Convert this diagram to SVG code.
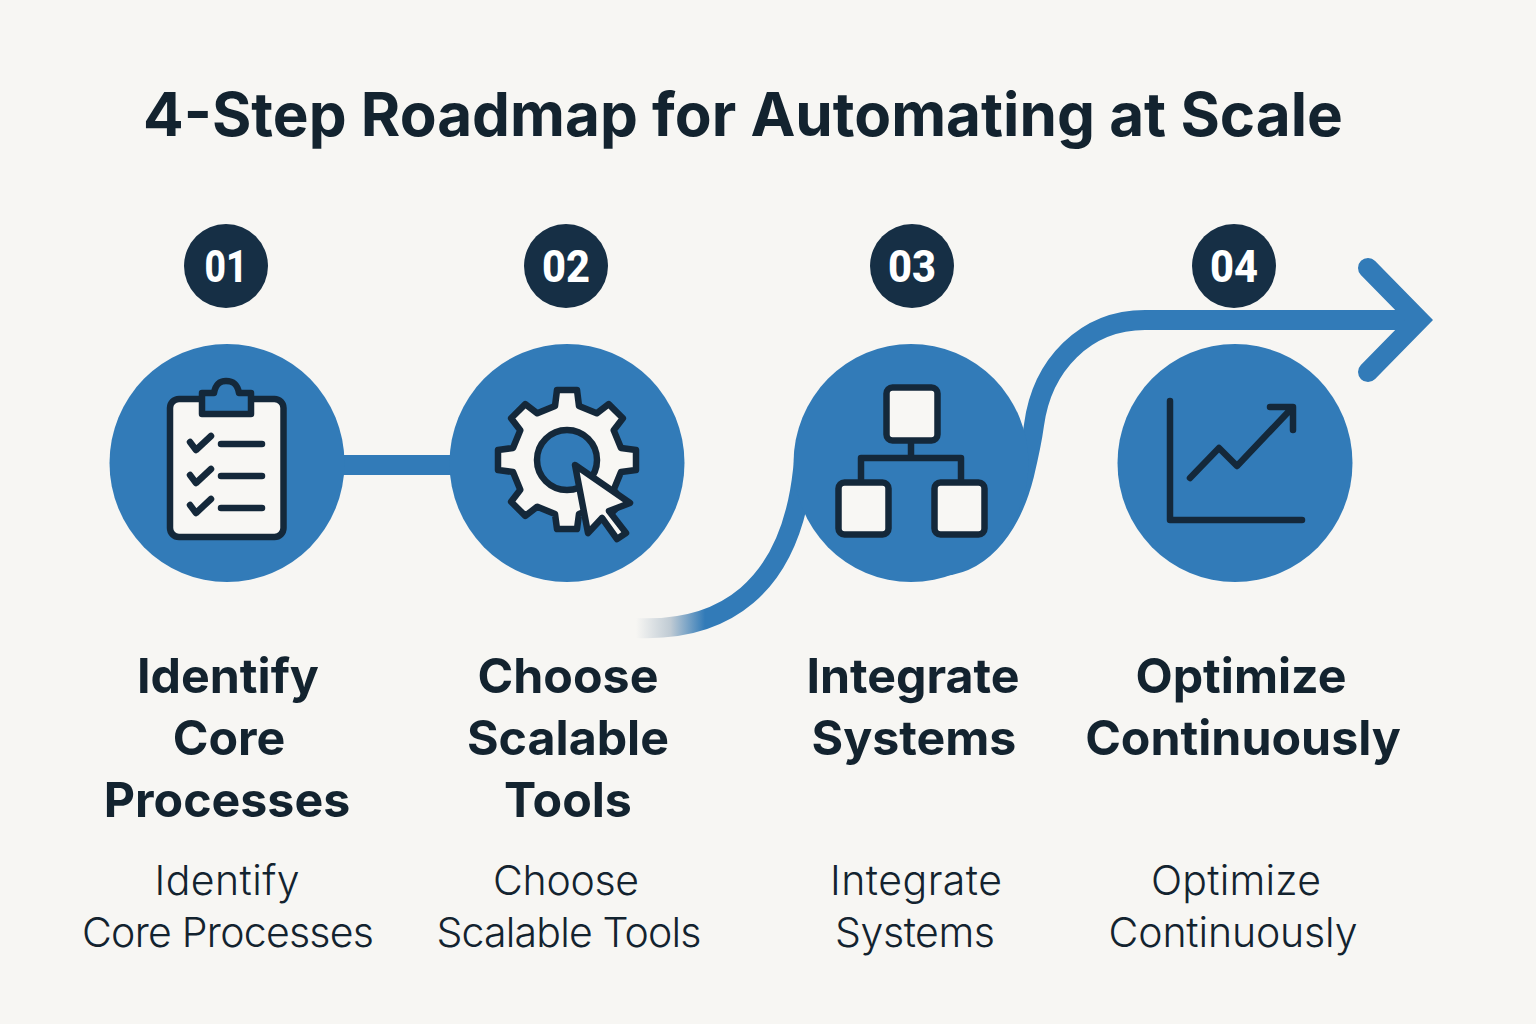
<svg xmlns="http://www.w3.org/2000/svg" width="1536" height="1024" viewBox="0 0 1536 1024">
<style>
text{font-family:Inter,"Noto Sans","Liberation Sans",sans-serif;text-anchor:middle}
.title{font-size:60.200px;font-weight:650;fill:#13232f}
.h{font-size:48.300px;font-weight:650;fill:#13232f}
.d{font-size:41px;font-weight:300;fill:#13232f}
.n{font-size:44px;font-weight:800;fill:#fff;font-family:Roboto,"Liberation Sans",sans-serif}
.badge{fill:#162f45}
.disc{fill:#327bb8}
.ic{stroke:#14283a;stroke-width:6.500;stroke-linejoin:round;stroke-linecap:round;fill:none}
.w{fill:#f8f7f4}
.b{fill:#327bb8}
.con{fill:none;stroke-width:20}
</style>
<defs>
<linearGradient id="fade" gradientUnits="userSpaceOnUse" x1="636" y1="0" x2="705" y2="0">
<stop offset="0" stop-color="#f7f6f3"/>
<stop offset="0.5" stop-color="#c0cbd4"/>
<stop offset="1" stop-color="#327bb8"/>
</linearGradient>
</defs>
<rect width="1536" height="1024" fill="#f7f6f3"/>
<text class="title" x="743" y="136">4-Step Roadmap for Automating at Scale</text>
<g id="connectors">
<path class="con" stroke="#327bb8" d="M340 465H455"/>
<path class="con" stroke="url(#fade)" d="M636 628C722 632 790 590 803 470L806 450M930 566C978 570 1010 530 1024 475C1030 450 1032 440 1034 425C1042 365 1085 320 1145 320H1420"/>
<path class="con" stroke="#327bb8" stroke-linecap="round" d="M1368 268L1419 320L1368 372" stroke-linejoin="miter"/>
</g>
<g id="step1">
<circle class="badge" cx="226" cy="266" r="42"/><text class="n" x="226" y="282" textLength="43" lengthAdjust="spacingAndGlyphs">01</text>
<ellipse class="disc" cx="227" cy="463" rx="117.500" ry="119"/>
<rect class="ic w" x="170" y="399" width="113.500" height="138" rx="9"/>
<path class="ic b" d="M202 393H214C216 382 222 381 226 381C231 381 237 382 239 393H251V414H202Z"/>
<path class="ic" d="M190 442L196 450L211 436M190 475L196 483L211 469M190 505L196 513L211 499"/>
<path class="ic" d="M221 444H262M221 476H262M221 508H262"/>
<text class="h" x="228" y="693">Identify</text>
<text class="h" x="229" y="755">Core</text>
<text class="h" x="227" y="817">Processes</text>
<text class="d" x="227" y="895" textLength="145">Identify</text>
<text class="d" x="228" y="947" textLength="292">Core Processes</text>
</g>
<g id="step2">
<circle class="badge" cx="566" cy="266" r="42"/><text class="n" x="566" y="282" textLength="48" lengthAdjust="spacingAndGlyphs">02</text>
<ellipse class="disc" cx="567" cy="463" rx="117.500" ry="119"/>
<path class="ic w" d="M555 406L557 390H577L579 406L596.700 413.300L608.700 404.100L622.900 418.300L613.700 430.300L621 448L636 450V470L621 472L613.700 489.700L622.900 501.700L608.700 515.900L596.700 506.700L579 514L577 529H557L555 514L537.300 506.700L525.300 515.900L511.100 501.700L520.300 489.700L513 472L498 470V450L513 448L520.300 430.300L511.100 418.300L525.300 404.100L537.300 413.300Z"/>
<circle class="ic b" cx="567" cy="460" r="30"/>
<path class="ic w" d="M575 465L630 503L609 511L626 533L617 539L602 518L588 533Z"/>
<text class="h" x="568" y="693">Choose</text>
<text class="h" x="568" y="755">Scalable</text>
<text class="h" x="568" y="817">Tools</text>
<text class="d" x="566" y="895" textLength="146">Choose</text>
<text class="d" x="569" y="947" textLength="265">Scalable Tools</text>
</g>
<g id="step3">
<circle class="badge" cx="912" cy="266" r="42"/><text class="n" x="912" y="282" textLength="48" lengthAdjust="spacingAndGlyphs">03</text>
<ellipse class="disc" cx="911" cy="463" rx="117.500" ry="119"/>
<path class="ic" d="M911 441V458M861 480V458H961V480"/>
<rect class="ic w" x="886.500" y="387.500" width="51" height="53" rx="6"/>
<rect class="ic w" x="838.500" y="482.500" width="50" height="52" rx="6"/>
<rect class="ic w" x="934.500" y="482.500" width="50" height="52" rx="6"/>
<text class="h" x="913" y="693">Integrate</text>
<text class="h" x="914" y="755">Systems</text>
<text class="d" x="916" y="895" textLength="172">Integrate</text>
<text class="d" x="915" y="947" textLength="160">Systems</text>
</g>
<g id="step4">
<circle class="badge" cx="1234" cy="266" r="42"/><text class="n" x="1234" y="282" textLength="48" lengthAdjust="spacingAndGlyphs">04</text>
<ellipse class="disc" cx="1235" cy="463" rx="117.500" ry="119"/>
<path class="ic" d="M1170 401V520H1302"/>
<path class="ic" d="M1190 478L1219 448L1237 466L1292 408M1270 407H1293V430"/>
<text class="h" x="1241" y="693">Optimize</text>
<text class="h" x="1243" y="755">Continuously</text>
<text class="d" x="1236" y="895" textLength="170">Optimize</text>
<text class="d" x="1233" y="947" textLength="249">Continuously</text>
</g>
</svg>
